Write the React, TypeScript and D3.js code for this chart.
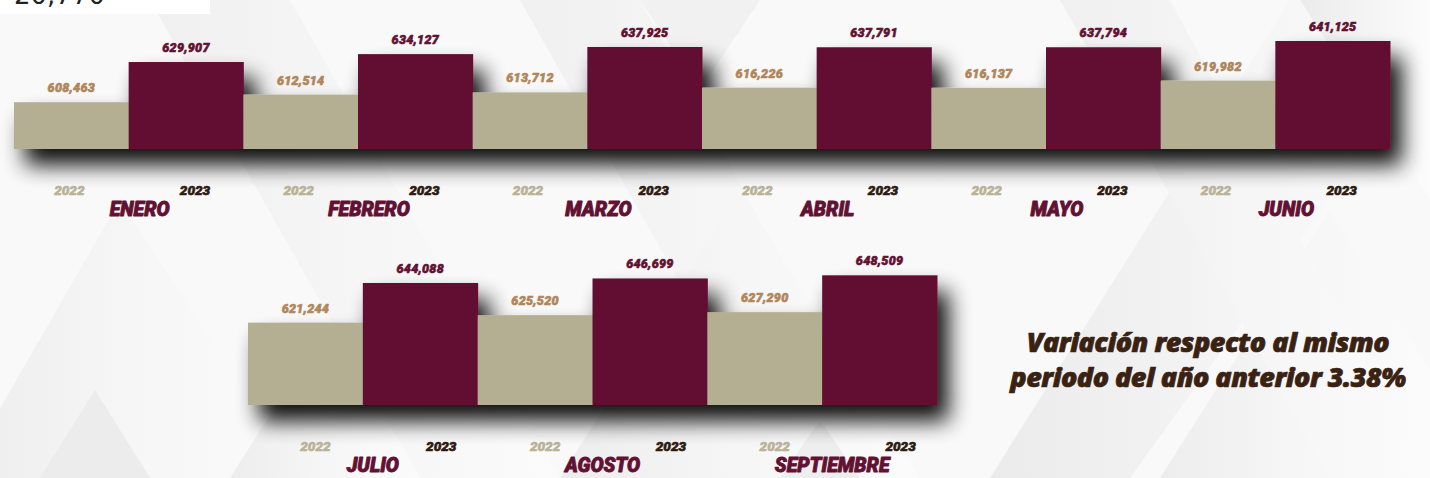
import React from "react";
import * as d3 from "d3";

const monthsTop = ["ENERO", "FEBRERO", "MARZO", "ABRIL", "MAYO", "JUNIO"];
const values2022Top = [608463, 612514, 613712, 616226, 616137, 619982];
const values2023Top = [629907, 634127, 637925, 637791, 637794, 641125];
const monthsBottom = ["JULIO", "AGOSTO", "SEPTIEMBRE"];
const values2022Bottom = [621244, 625520, 627290];
const values2023Bottom = [644088, 646699, 648509];
const years = ["2022", "2023"];
const noteLines = ["Variación respecto al mismo", "periodo del año anterior 3.38%"];
const cutTitle = "20,770";

const W = 1430;
const H = 478;
const MAROON = "#621132";
const KHAKI = "#b4ae92";
const fmt = d3.format(",");
const FONT = "Roboto, 'Open Sans', sans-serif";

type Row = {
  months: string[];
  v22: number[];
  v23: number[];
  x0: number;
  x1: number;
  base: number;
  domain: [number, number];
  height: number;
  yearY: number;
  monthY: number;
  yearOff22: number;
  yearOff23: number;
  monthOff: number;
};

const rows: Row[] = [
  {
    months: monthsTop, v22: values2022Top, v23: values2023Top,
    x0: 14, x1: 1390, base: 149, domain: [583500, 641125], height: 108,
    yearY: 195, monthY: 216, yearOff22: -2, yearOff23: 9, monthOff: 11,
  },
  {
    months: monthsBottom, v22: values2022Bottom, v23: values2023Bottom,
    x0: 248, x1: 937, base: 405, domain: [573800, 648509], height: 129.7,
    yearY: 451, monthY: 472, yearOff22: 10, yearOff23: 21, monthOff: 10,
  },
];

function Background() {
  const polys: [string, string][] = [
    ["M-40,478 L120,200 L300,478 Z", "url(#gA)"],
    ["M40,478 L95,390 L150,478 Z", "#ececec"],
    ["M150,0 L420,478 L560,478 L290,0 Z", "url(#gB)"],
    ["M520,0 L790,478 L900,478 L640,0 Z", "url(#gB)"],
    ["M560,478 L740,190 L920,478 Z", "url(#gA)"],
    ["M990,478 L1290,0 L1430,0 L1430,60 L1130,478 Z", "url(#gC)"],
    ["M1160,478 L1330,210 L1430,370 L1430,478 Z", "url(#gA)"],
    ["M1060,0 L1330,478 L1430,478 L1170,0 Z", "url(#gB)"],
    ["M780,478 L820,420 L860,478 Z", "#eeeeee"],
    ["M230,478 L330,320 L420,478 Z", "url(#gA)"],
    ["M640,0 L760,0 L700,90 Z", "#f1f1f1"],
    ["M1300,0 L1430,0 L1430,200 Z", "url(#gC)"],
  ];
  return (
    <g>
      <defs>
        <linearGradient id="gA" x1="0" y1="0" x2="1" y2="0">
          <stop offset="0" stopColor="#ededed" />
          <stop offset="0.5" stopColor="#f6f6f6" />
          <stop offset="1" stopColor="#fbfbfb" />
        </linearGradient>
        <linearGradient id="gB" x1="0" y1="0" x2="1" y2="0">
          <stop offset="0" stopColor="#f0f0f0" />
          <stop offset="1" stopColor="#fbfbfb" />
        </linearGradient>
        <linearGradient id="gC" x1="0" y1="0" x2="1" y2="0">
          <stop offset="0" stopColor="#ebebeb" />
          <stop offset="1" stopColor="#fcfcfc" />
        </linearGradient>
      </defs>
      <rect x={0} y={0} width={W} height={H} fill="#f9f9f9" />
      {polys.map(([d, f], i) => (
        <path key={i} d={d} fill={f} />
      ))}
    </g>
  );
}

function Label(props: {
  x: number; y: number; size: number; fill: string; children: React.ReactNode;
  sw?: number; ls?: number; family?: string; weight?: number;
}) {
  return (
    <text
      x={props.x}
      y={props.y}
      textAnchor="middle"
      fontFamily={props.family ?? FONT}
      fontStyle="italic"
      fontWeight={props.weight ?? 900}
      fontSize={props.size}
      letterSpacing={props.ls ?? 0}
      fill={props.fill}
      stroke={props.fill}
      strokeWidth={props.sw ?? 0.6}
      strokeLinejoin="round"
    >
      {props.children}
    </text>
  );
}

function BarRow({ row }: { row: Row }) {
  const x = d3.scaleBand<string>().domain(row.months).range([row.x0, row.x1]).padding(0);
  const xi = d3.scaleBand<string>().domain(years).range([0, x.bandwidth()]).padding(0);
  const y = d3
    .scaleLinear()
    .domain(row.domain)
    .range([row.base, row.base - row.height]);
  const bars = row.months.flatMap((m, i) => [
    { m, yr: "2022", v: row.v22[i] },
    { m, yr: "2023", v: row.v23[i] },
  ]);
  return (
    <g>
      <g filter="url(#shadow)">
        {bars.map((b, i) => (
          <rect
            key={i}
            x={(x(b.m) ?? 0) + (xi(b.yr) ?? 0)}
            y={y(b.v)}
            width={xi.bandwidth() + 0.5}
            height={row.base - y(b.v)}
            fill={b.yr === "2022" ? KHAKI : MAROON}
          />
        ))}
      </g>
      {bars.map((b, i) => (
        <Label
          key={"v" + i}
          x={(x(b.m) ?? 0) + (xi(b.yr) ?? 0) + xi.bandwidth() / 2}
          y={y(b.v) - 10}
          size={12.5}
          ls={0.3}
          fill={b.yr === "2022" ? "#b0865a" : MAROON}
        >
          {fmt(b.v)}
        </Label>
      ))}
      {row.months.map((m) => (
        <g key={m}>
          <Label
            x={(x(m) ?? 0) + (xi("2022") ?? 0) + xi.bandwidth() / 2 + row.yearOff22}
            y={row.yearY}
            size={13.5}
            fill="#b9b297"
          >
            2022
          </Label>
          <Label
            x={(x(m) ?? 0) + (xi("2023") ?? 0) + xi.bandwidth() / 2 + row.yearOff23}
            y={row.yearY}
            size={13.5}
            fill="#2e1b10"
          >
            2023
          </Label>
          <Label
            x={(x(m) ?? 0) + x.bandwidth() / 2 + row.monthOff}
            y={row.monthY}
            size={19.5}
            sw={0.9}
            fill={MAROON}
          >
            {m}
          </Label>
        </g>
      ))}
    </g>
  );
}

export default function App() {
  return (
    <svg
      width={W}
      height={H}
      style={{ position: "absolute", left: 0, top: 0, display: "block" }}
    >
      <defs>
        <filter id="shadow" x="-10%" y="-40%" width="125%" height="200%">
          <feGaussianBlur in="SourceAlpha" stdDeviation="11" />
          <feOffset dx="11" dy="16" result="o" />
          <feComponentTransfer>
            <feFuncA type="linear" slope="0.95" />
          </feComponentTransfer>
          <feMerge>
            <feMergeNode />
            <feMergeNode in="SourceGraphic" />
          </feMerge>
        </filter>
      </defs>
      <Background />
      <rect x={0} y={0} width={210} height={14} fill="#ffffff" />
      <text x={14} y={4} fontFamily="'DejaVu Sans', sans-serif" fontSize={26} fill="#222">
        {cutTitle}
      </text>
      {rows.map((r, i) => (
        <BarRow key={i} row={r} />
      ))}
      {noteLines.map((l, i) => (
        <Label
          key={i}
          x={1208}
          y={352 + i * 35}
          size={27}
          sw={0.7}
          ls={-0.5}
          weight={800}
          family="'Open Sans', Lato, sans-serif"
          fill="#3a2213"
        >
          {l}
        </Label>
      ))}
    </svg>
  );
}
